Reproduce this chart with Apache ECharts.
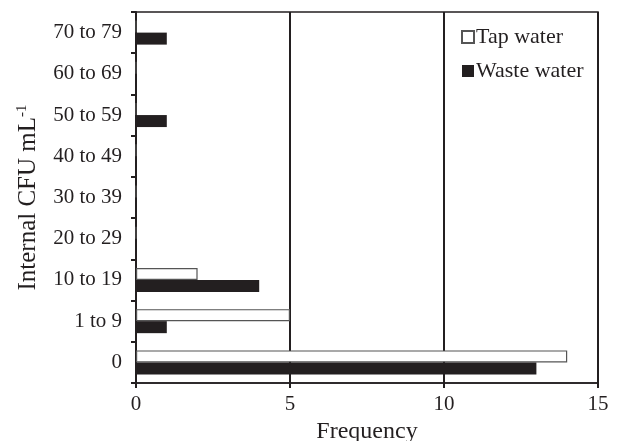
<!DOCTYPE html>
<html><head><meta charset="utf-8">
<script src="https://cdn.jsdelivr.net/npm/echarts@6/dist/echarts.min.js"></script>
<style>html,body{margin:0;padding:0;background:#fff}#c{width:620px;height:441px}</style>
</head><body><div id="c"></div>
<script>
var categories = ['0', '1 to 9', '10 to 19', '20 to 29', '30 to 39', '40 to 49', '50 to 59', '60 to 69', '70 to 79'];
var tapWater = [14, 5, 2, 0, 0, 0, 0, 0, 0];
var wasteWater = [13, 1, 4, 0, 0, 0, 1, 0, 1];
var xTicks = [0, 5, 10, 15];

var font = 'Liberation Serif';
var ink = '#231f20';
var chart = echarts.init(document.getElementById('c'));
chart.setOption({
  animation: false,
  textStyle: {fontFamily: font, color: ink},
  grid: {left: 136, right: 22, top: 12, bottom: 58, containLabel: false, outerBoundsMode: 'none',
         show: true, borderColor: ink, borderWidth: 1.5, backgroundColor: 'transparent'},
  legend: {
    orient: 'vertical', left: 456, top: 21, itemWidth: 12, itemHeight: 12, itemGap: 12,
    data: ['Tap water', 'Waste water'],
    textStyle: {fontFamily: font, fontSize: 22, color: ink, padding: [0,0,0,-3]},
    icon: 'rect'
  },
  xAxis: {
    type: 'value', min: xTicks[0], max: xTicks[xTicks.length-1], interval: 5,
    name: 'Frequency', nameLocation: 'middle', nameGap: 30,
    nameTextStyle: {fontFamily: font, fontSize: 24, color: ink},
    axisLine: {show: true, lineStyle: {color: ink, width: 1.5}},
    axisTick: {show: true, length: 5, lineStyle: {color: ink, width: 2}},
    axisLabel: {fontFamily: font, fontSize: 21, color: ink, margin: 11},
    splitLine: {show: true, lineStyle: {color: ink, width: 2}}
  },
  yAxis: {
    type: 'category', data: categories,
    name: '{a|Internal CFU mL}{s|-1}', nameLocation: 'middle', nameGap: 94,
    nameTextStyle: {rich: {a: {fontFamily: font, fontSize: 25, color: ink}, s: {fontFamily: font, fontSize: 15, color: ink, verticalAlign: 'top', padding: [0,0,12,0]}}},
    axisLine: {show: true, lineStyle: {color: ink, width: 2}},
    axisTick: {show: true, length: 5, lineStyle: {color: ink, width: 2}},
    axisLabel: {fontFamily: font, fontSize: 21, color: ink, margin: 14},
    splitLine: {show: false}
  },
  series: [
    {name: 'Tap water', type: 'bar', data: tapWater, barWidth: 12, barGap: '0%',
     itemStyle: {color: '#ffffff', borderColor: '#555', borderWidth: 1.2}},
    {name: 'Waste water', type: 'bar', data: wasteWater, barWidth: 12, barGap: '0%',
     itemStyle: {color: ink, borderColor: ink, borderWidth: 0}}
  ]
});
</script></body></html>
